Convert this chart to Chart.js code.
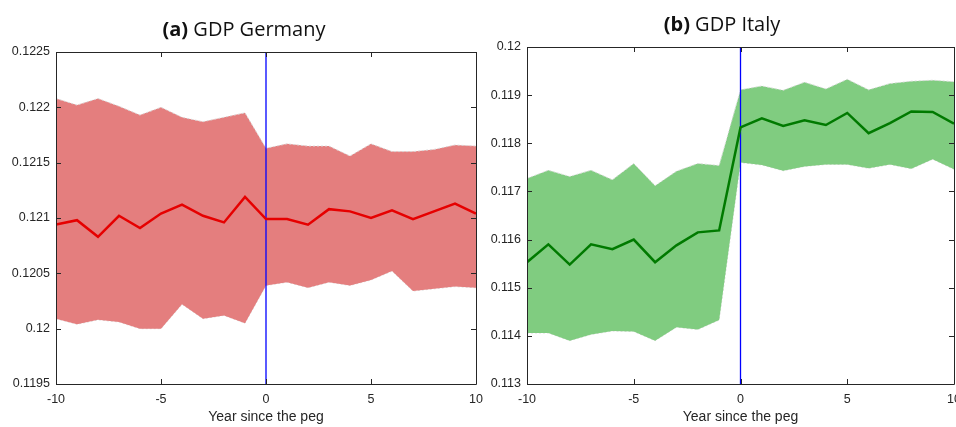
<!DOCTYPE html>
<html>
<head>
<meta charset="utf-8">
<script src="https://cdn.jsdelivr.net/npm/chart.js@4.4.0/dist/chart.umd.min.js"></script>
<style>
  html, body { margin:0; padding:0; background:#fff; overflow:hidden; }
  body { width:956px; height:427px; position:relative; }
  .panel { position:absolute; top:0; height:427px; overflow:hidden; }
  .panel canvas { display:block; }
  .ttl { position:absolute; white-space:nowrap; transform:translateX(-50%);
         font-family:"Open Sans", "Noto Sans", sans-serif; font-size:20px; line-height:1; color:#111; }
  .ttl b { font-weight:700; }
</style>
</head>
<body>
<div class="panel" id="pA" style="left:0;width:486px"><canvas id="gdpDE" width="486" height="427"></canvas></div>
<div class="panel" id="pB" style="left:484px;width:472px"><canvas id="gdpIT" width="472" height="427"></canvas></div>
<div class="ttl" style="left:244px;top:19px"><b>(a)</b> GDP Germany</div>
<div class="ttl" style="left:722px;top:14px"><b>(b)</b> GDP Italy</div>
<script>
// years relative to the peg
const YEARS = [-10,-9,-8,-7,-6,-5,-4,-3,-2,-1,0,1,2,3,4,5,6,7,8,9,10];
const PEG_YEAR = 0;
const X_TICKS = [-10, -5, 0, 5, 10];

// Germany: mean and band
const DE_MEAN  = [0.12094,0.12098,0.12083,0.12102,0.12091,0.12104,0.12112,0.12102,0.12096,0.12119,
                  0.12099,0.12099,0.12094,0.12108,0.12106,0.12100,0.12107,0.12099,0.12106,0.12113,0.12104];
const DE_UPPER = [0.12208,0.12202,0.12208,0.12201,0.12193,0.12200,0.12191,0.12187,0.12191,0.12195,
                  0.12163,0.12167,0.12165,0.12165,0.12156,0.12167,0.12160,0.12160,0.12162,0.12166,0.12165];
const DE_LOWER = [0.12009,0.12004,0.12008,0.12006,0.12000,0.12000,0.12022,0.12009,0.12012,0.12005,
                  0.12039,0.12042,0.12037,0.12042,0.12039,0.12044,0.12052,0.12034,0.12036,0.12038,0.12037];
const DE_Y_RANGE = [0.1195, 0.1225];
const DE_Y_STEP = 0.0005;

// Italy: mean and band
const IT_MEAN  = [0.11553,0.11590,0.11548,0.11590,0.11580,0.11600,0.11553,0.11588,0.11615,0.11619,
                  0.11833,0.11852,0.11836,0.11848,0.11838,0.11863,0.11821,0.11842,0.11866,0.11865,0.11841];
const IT_UPPER = [0.11727,0.11744,0.11731,0.11744,0.11724,0.11758,0.11712,0.11742,0.11758,0.11754,
                  0.11911,0.11919,0.11910,0.11927,0.11913,0.11933,0.11911,0.11924,0.11929,0.11931,0.11928];
const IT_LOWER = [0.11406,0.11406,0.11390,0.11403,0.11410,0.11409,0.11390,0.11418,0.11413,0.11433,
                  0.11760,0.11755,0.11743,0.11752,0.11756,0.11756,0.11748,0.11756,0.11747,0.11767,0.11746];
const IT_Y_RANGE = [0.113, 0.120];
const IT_Y_STEP = 0.001;

const AXIS_COL = '#262626';
const TICK_FONT = { family:'"Liberation Sans", Arial, sans-serif', size:12.5 };

const pts = vals => YEARS.map((x, i) => ({ x, y: vals[i] }));

// matlab-style box with inward tick marks on all four sides
const boxPlugin = {
  id: 'boxTicks',
  afterDraw(chart) {
    const { ctx, chartArea: a, scales: { x, y } } = chart;
    const len = 5;
    ctx.save();
    ctx.strokeStyle = AXIS_COL;
    ctx.lineWidth = 1;
    ctx.beginPath();
    ctx.rect(Math.round(a.left) + 0.5, Math.round(a.top) + 0.5,
             Math.round(a.right - a.left), Math.round(a.bottom - a.top));
    x.ticks.forEach(t => {
      const px = Math.round(x.getPixelForValue(t.value)) + 0.5;
      ctx.moveTo(px, a.bottom); ctx.lineTo(px, a.bottom - len);
      ctx.moveTo(px, a.top); ctx.lineTo(px, a.top + len);
    });
    y.ticks.forEach(t => {
      const py = Math.round(y.getPixelForValue(t.value)) + 0.5;
      ctx.moveTo(a.left, py); ctx.lineTo(a.left + len, py);
      ctx.moveTo(a.right, py); ctx.lineTo(a.right - len, py);
    });
    ctx.stroke();
    ctx.restore();
  }
};

function makeChart(id, mean, upper, lower, yRange, yStep, digits, lineCol, bandCol, geo) {
  return new Chart(document.getElementById(id), {
    type: 'line',
    data: {
      datasets: [
        { data: pts(mean), borderColor: lineCol, borderWidth: 2.5, order: 0 },
        { data: [{ x: PEG_YEAR, y: yRange[0] }, { x: PEG_YEAR, y: yRange[1] }],
          borderColor: '#0000ff', borderWidth: 1.3, order: 1 },
        { data: pts(upper), borderColor: 'rgba(215,215,215,0.95)', borderWidth: 1, borderDash: [2, 2],
          backgroundColor: bandCol, fill: '+1', order: 2 },
        { data: pts(lower), borderColor: 'rgba(215,215,215,0.95)', borderWidth: 1, borderDash: [2, 2],
          fill: false, order: 2 }
      ]
    },
    options: {
      responsive: false,
      animation: false,
      events: [],
      elements: { point: { radius: 0 }, line: { tension: 0 } },
      layout: { padding: { left: 0, right: geo.right, top: geo.top, bottom: 0 } },
      plugins: { legend: { display: false }, tooltip: { enabled: false } },
      scales: {
        x: {
          type: 'linear', min: -10, max: 10,
          afterBuildTicks: s => { s.ticks = X_TICKS.map(v => ({ value: v })); },
          grid: { display: false, drawTicks: false }, border: { display: false },
          ticks: { color: AXIS_COL, font: TICK_FONT, padding: 8, maxRotation: 0,
                   callback: v => String(v) },
          title: { display: true, text: 'Year since the peg', color: AXIS_COL,
                   font: { family: TICK_FONT.family, size: 14 }, padding: { top: 0, bottom: 1 } },
          afterFit: s => { s.height = geo.xh; s.paddingLeft = 0; s.paddingRight = 0; }
        },
        y: {
          min: yRange[0], max: yRange[1],
          grid: { display: false, drawTicks: false }, border: { display: false },
          ticks: { stepSize: yStep, color: AXIS_COL, font: TICK_FONT, padding: 6,
                   callback: v => String(Number(v.toFixed(digits))) },
          afterFit: s => { s.width = geo.yw; s.paddingTop = 0; s.paddingBottom = 0; }
        }
      }
    },
    plugins: [boxPlugin]
  });
}

makeChart('gdpDE', DE_MEAN, DE_UPPER, DE_LOWER, DE_Y_RANGE, DE_Y_STEP, 4,
  '#e60000', 'rgba(228,126,126,1)', { yw: 56, right: 10, top: 52, xh: 43 });
makeChart('gdpIT', IT_MEAN, IT_UPPER, IT_LOWER, IT_Y_RANGE, IT_Y_STEP, 3,
  '#007a00', 'rgba(128,204,128,1)', { yw: 43, right: 2, top: 47, xh: 43 });
</script>
</body>
</html>
